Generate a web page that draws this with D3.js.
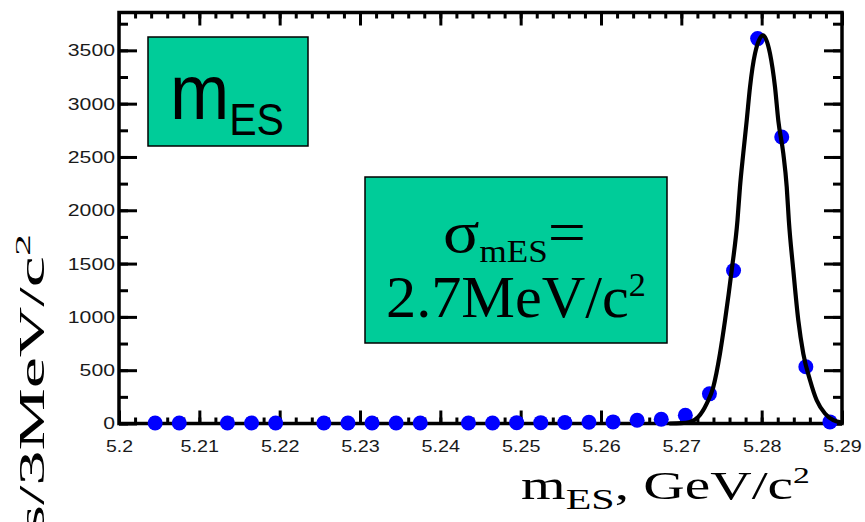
<!DOCTYPE html>
<html><head><meta charset="utf-8">
<script src="https://cdn.jsdelivr.net/npm/d3@7"></script>
<style>html,body{margin:0;padding:0;background:#fff;}svg{display:block;}</style>
</head><body>
<script>
// ---- data ----
const binCenters = [5.2015,5.2045,5.2075,5.2105,5.2135,5.2165,5.2195,5.2225,5.2255,5.2285,
  5.2315,5.2345,5.2375,5.2405,5.2435,5.2465,5.2495,5.2525,5.2555,5.2585,
  5.2615,5.2645,5.2675,5.2705,5.2735,5.2765,5.2795,5.2825,5.2855,5.2885];
const counts = [null,5,5,null,5,5,5,null,5,5,
  5,5,5,null,5,5,8,8,10,12,
  15,30,40,78,278,1435,3610,2687,532,15];
const fitMass = [5.2685,5.2700,5.27108,5.27211,5.27316,5.27398,5.27481,5.27544,5.27627,5.27699,
  5.27730,5.27771,5.27814,5.27855,5.27917,5.28017,5.28104,5.28166,5.28207,5.28269,
  5.28312,5.28338,5.28394,5.28456,5.28518,5.28602,5.28685,5.28788,5.28892,5.2900];
const fitValue = [0,3,15,62,187,343,656,968,1437,1906,
  2218,2534,2843,3156,3469,3640,3469,3156,2843,2534,
  2218,1906,1437,968,656,406,218,94,31,8];
const xMajorTicks = [5.20,5.21,5.22,5.23,5.24,5.25,5.26,5.27,5.28,5.29];
const xTickLabels = ["5.2","5.21","5.22","5.23","5.24","5.25","5.26","5.27","5.28","5.29"];
const yMajorTicks = [0,500,1000,1500,2000,2500,3000,3500];
const yTickLabels = ["0","500","1000","1500","2000","2500","3000","3500"];
const xLabel = {main:"m", sub:"ES", rest:", GeV/c", sup:"2"};
const yLabel = {main:"Events/3MeV/c", sup:"2"};
const box1Text = {main:"m", sub:"ES"};
const box2Line1 = {main:"σ", sub:"mES", rest:"="};
const box2Line2 = {main:"2.7MeV/c", sup:"2"};

// ---- layout ----
const W = 865, H = 522;
const svg = d3.select("body").append("svg").attr("width", W).attr("height", H);
const x = d3.scaleLinear().domain([5.2, 5.29]).range([119, 842]);
const y = d3.scaleLinear().domain([0, 3855]).range([423.5, 12.5]);
const serif = "'Liberation Serif','Times New Roman',serif";
const sans = "'Liberation Sans',Arial,sans-serif";

const xMinor = d3.range(0, 46).map(i => 5.2 + i*0.002).filter(v => v <= 5.2901);
const yMinor = d3.range(0, 16).map(i => i*250);

function styleAxis(g){
  g.select(".domain").remove();
  g.selectAll(".tick line").attr("stroke","#000").attr("stroke-width",3);
}
// minor ticks
svg.append("g").attr("transform",`translate(0,${y(0)})`)
  .call(d3.axisBottom(x).tickValues(xMinor).tickSize(-6).tickFormat("")).call(styleAxis);
svg.append("g").attr("transform",`translate(0,${y.range()[1]})`)
  .call(d3.axisTop(x).tickValues(xMinor).tickSize(-6).tickFormat("")).call(styleAxis);
svg.append("g").attr("transform",`translate(${x.range()[0]},0)`)
  .call(d3.axisLeft(y).tickValues(yMinor).tickSize(-9).tickFormat("")).call(styleAxis);
svg.append("g").attr("transform",`translate(${x.range()[1]},0)`)
  .call(d3.axisRight(y).tickValues(yMinor).tickSize(-9).tickFormat("")).call(styleAxis);
// major ticks + labels
const gxb = svg.append("g").attr("transform",`translate(0,${y(0)})`)
  .call(d3.axisBottom(x).tickValues(xMajorTicks).tickSize(-13).tickPadding(16)
    .tickFormat((d,i)=>xTickLabels[i])).call(styleAxis);
svg.append("g").attr("transform",`translate(0,${y.range()[1]})`)
  .call(d3.axisTop(x).tickValues(xMajorTicks).tickSize(-13).tickFormat("")).call(styleAxis);
const gyl = svg.append("g").attr("transform",`translate(${x.range()[0]},0)`)
  .call(d3.axisLeft(y).tickValues(yMajorTicks).tickSize(-18).tickPadding(4)
    .tickFormat((d,i)=>yTickLabels[i])).call(styleAxis);
svg.append("g").attr("transform",`translate(${x.range()[1]},0)`)
  .call(d3.axisRight(y).tickValues(yMajorTicks).tickSize(-18).tickFormat("")).call(styleAxis);

gxb.selectAll("text").attr("font-family",sans).attr("font-size",17).attr("fill","#1a1a1a")
  .attr("textLength",function(){const t=this.textContent;return (t.length-1)*11.5+4;})
  .attr("lengthAdjust","spacingAndGlyphs");
gyl.selectAll("text").attr("font-family",sans).attr("font-size",17).attr("fill","#1a1a1a")
  .attr("textLength",function(){return this.textContent.length*11.8;})
  .attr("lengthAdjust","spacingAndGlyphs");

// frame
svg.append("rect").attr("x",x.range()[0]).attr("y",y.range()[1])
  .attr("width",x.range()[1]-x.range()[0]).attr("height",y(0)-y.range()[1])
  .attr("fill","none").attr("stroke","#000").attr("stroke-width",3.5);

// data points
const pts = binCenters.map((m,i)=>({m, c:counts[i]})).filter(d=>d.c!==null);
svg.append("g").selectAll("circle").data(pts).join("circle")
  .attr("cx",d=>x(d.m)).attr("cy",d=>y(d.c)).attr("r",7.5).attr("fill","#0000ff");

// fit curve
const fit = fitMass.map((m,i)=>[m, fitValue[i]]);
svg.append("path").datum(fit)
  .attr("d", d3.line().x(d=>x(d[0])).y(d=>y(d[1])).curve(d3.curveMonotoneX))
  .attr("fill","none").attr("stroke","#000").attr("stroke-width",4.2).attr("stroke-linejoin","round");

// helper: fit a text horizontally into [x0,x1]
function fitH(g, x0, x1, baseY){
  const b = g.node().getBBox();
  const s = (x1-x0)/b.width;
  g.attr("transform",`translate(${x0},${baseY}) scale(${s},1) translate(${-b.x},0)`);
}

// box 1: m_ES
svg.append("rect").attr("x",148).attr("y",37).attr("width",160).attr("height",109)
  .attr("fill","#00cc99").attr("stroke","#000").attr("stroke-width",1.5);
{
  const g = svg.append("g");
  const t = g.append("text").attr("font-family",sans).attr("font-size",78).attr("fill","#000");
  t.append("tspan").text(box1Text.main);
  t.append("tspan").attr("font-size",45).attr("dy",16).text(box1Text.sub);
  fitH(g, 170, 284, 119);
}

// box 2: sigma
svg.append("rect").attr("x",365).attr("y",177).attr("width",302).attr("height",166)
  .attr("fill","#00cc99").attr("stroke","#000").attr("stroke-width",1.5);
{
  const g = svg.append("g");
  const t = g.append("text").attr("font-family",serif).attr("font-size",60).attr("fill","#000");
  t.append("tspan").text(box2Line1.main);
  t.append("tspan").attr("font-size",31).attr("dy",10).text(box2Line1.sub);
  t.append("tspan").attr("dy",-10).text(box2Line1.rest);
  fitH(g, 443, 586, 252);
}
{
  const g = svg.append("g");
  const t = g.append("text").attr("font-family",serif).attr("font-size",60).attr("fill","#000");
  t.append("tspan").text(box2Line2.main);
  t.append("tspan").attr("font-size",34).attr("dy",-21).text(box2Line2.sup);
  fitH(g, 386, 646, 317);
}

// x axis label
{
  const g = svg.append("g");
  const t = g.append("text").attr("font-family",serif).attr("font-size",41).attr("fill","#000");
  t.append("tspan").text(xLabel.main);
  t.append("tspan").attr("font-size",30).attr("dy",10).text(xLabel.sub);
  t.append("tspan").attr("dy",-10).text(xLabel.rest);
  t.append("tspan").attr("font-size",24).attr("dy",-16).text(xLabel.sup);
  fitH(g, 521, 810, 499);
}

// y axis label (rotated, stretched along its length)
{
  const g = svg.append("g");
  const t = g.append("text").attr("font-family",serif).attr("font-size",35).attr("fill","#000");
  t.append("tspan").text(yLabel.main);
  t.append("tspan").attr("font-size",22).attr("dy",-14).text(yLabel.sup);
  const b = g.node().getBBox();
  g.attr("transform",`translate(44,234) rotate(-90) scale(2.0,1) translate(${-(b.x+b.width)},0)`);
}
</script>
</body></html>
